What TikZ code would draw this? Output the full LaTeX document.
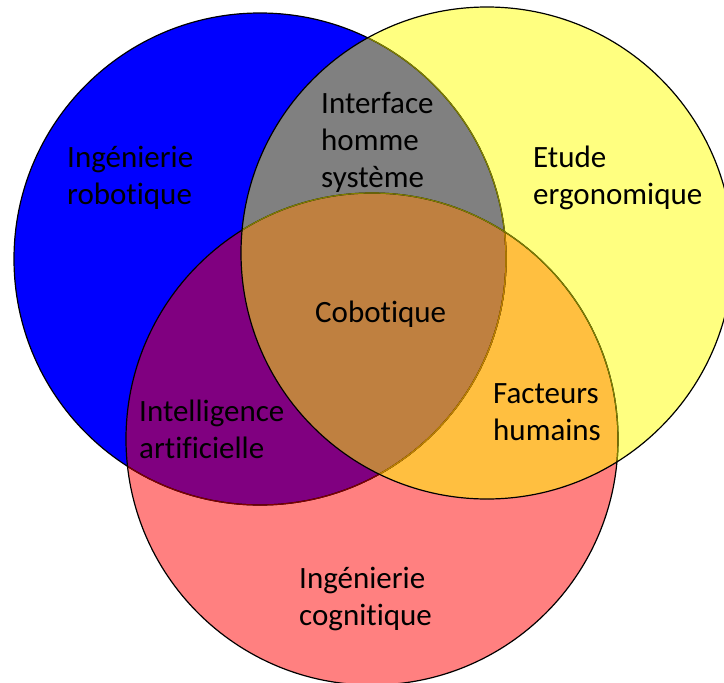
\documentclass[tikz,border=0pt]{standalone}
\usepackage{fontspec}
\setmainfont[Ligatures={NoCommon}]{Carlito}
\definecolor{cblue}{HTML}{0000FF}
\definecolor{cred}{HTML}{FF8080}
\definecolor{cyel}{HTML}{FFFF80}
\definecolor{cgray}{HTML}{808080}
\definecolor{cpurple}{HTML}{800080}
\definecolor{corange}{HTML}{FFBF40}
\definecolor{cbrown}{HTML}{BF8040}
\definecolor{cdred}{HTML}{800000}
\definecolor{colive}{HTML}{808000}
\definecolor{cdolive}{HTML}{BF8000}
\begin{document}
\begin{tikzpicture}[x=1pt,y=-1pt,
  edge/.style={line width=1.2pt},
  lbl/.style={anchor=base west, inner sep=0pt, font=\fontsize{31}{37}\selectfont}]
\useasboundingbox (0,0) rectangle (724,683);
\clip (0,0) rectangle (724,683);
\def\B{(260,259) circle[radius=246]}
\def\R{(372,439) circle[radius=246]}
\def\Y{(487,253) circle[radius=246]}
% fills
\fill[cblue] \B;
\fill[cred] \R;
\fill[cyel] \Y;
\begin{scope}\clip \B; \fill[cgray] \Y; \fill[cpurple] \R; \end{scope}
\begin{scope}\clip \R; \fill[corange] \Y; \end{scope}
\begin{scope}\clip \B; \clip \R; \fill[cbrown] \Y; \end{scope}
% outlines
\draw[edge, black] \B;
\begin{scope}\clip \R; \draw[edge, cdred] \B; \end{scope}
\begin{scope}\clip \Y; \draw[edge, colive] \B; \end{scope}
\begin{scope}\clip \R; \clip \Y; \draw[edge, cdolive] \B; \end{scope}
\draw[edge, black] \R;
\begin{scope}\clip \Y; \draw[edge, colive] \R; \end{scope}
\draw[edge, black] \Y;
% labels
\node[lbl] (rob) at (67,167) {\begin{tabular}[t]{@{}l@{}}Ingénierie\\robotique\end{tabular}};
\node[lbl] (ihs) at (321,113) {\begin{tabular}[t]{@{}l@{}}Interface\\homme\\système\end{tabular}};
\node[lbl] (erg) at (533,167) {\begin{tabular}[t]{@{}l@{}}Etude\\ergonomique\end{tabular}};
\node[lbl] (cob) at (315,322) {Cobotique};
\node[lbl] (ia) at (139,421) {\begin{tabular}[t]{@{}l@{}}Intelligence\\artificielle\end{tabular}};
\node[lbl] (fh) at (493,403) {\begin{tabular}[t]{@{}l@{}}Facteurs\\humains\end{tabular}};
\node[lbl] (cog) at (299,588) {\begin{tabular}[t]{@{}l@{}}Ingénierie\\cognitique\end{tabular}};
\end{tikzpicture}
\end{document}
